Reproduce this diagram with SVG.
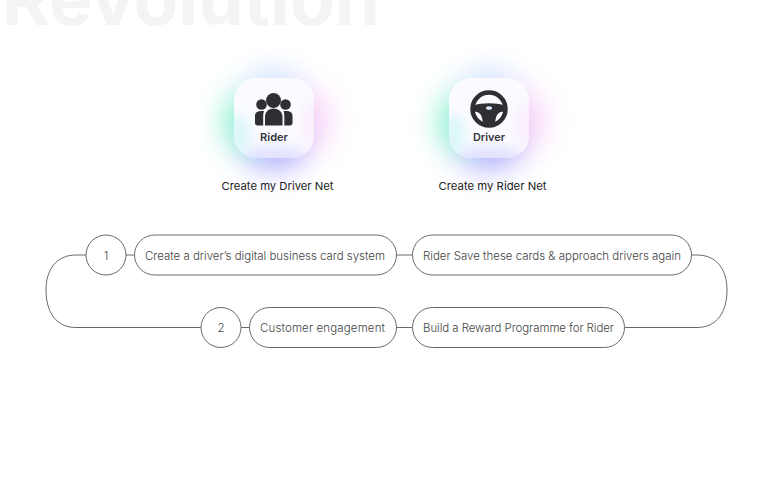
<svg xmlns="http://www.w3.org/2000/svg" width="768" height="490" viewBox="0 0 768 490">
<defs>
<filter id="blur" x="-120%" y="-120%" width="340%" height="340%"><feGaussianBlur stdDeviation="14"/></filter>
<filter id="soft" x="-40%" y="-40%" width="180%" height="180%"><feGaussianBlur stdDeviation="6"/></filter>
<clipPath id="cardclip"><rect x="-40" y="-40" width="80" height="80" rx="22"/></clipPath>
<g id="halo">
<ellipse cx="0" cy="-26" rx="30" ry="24" fill="#cfe0ff" opacity="0.85" filter="url(#blur)"/>
<ellipse cx="30" cy="2" rx="26" ry="30" fill="#f6c8f6" opacity="0.8" filter="url(#blur)"/>
<ellipse cx="0" cy="28" rx="32" ry="24" fill="#a5a3fb" opacity="0.85" filter="url(#blur)"/>
<ellipse cx="-28" cy="4" rx="24" ry="30" fill="#97f2d6" opacity="1" filter="url(#blur)"/>
<rect x="-40" y="-40" width="80" height="80" rx="22" fill="#fbfbff"/>
<g clip-path="url(#cardclip)">
<ellipse cx="0" cy="42" rx="36" ry="14" fill="#dcdcff" opacity="0.8" filter="url(#soft)"/>
<ellipse cx="-36" cy="18" rx="12" ry="22" fill="#d4f6f8" opacity="0.8" filter="url(#soft)"/>
<ellipse cx="38" cy="6" rx="10" ry="24" fill="#f9e8fc" opacity="0.7" filter="url(#soft)"/>
</g>
</g>
</defs>
<style>
.big{font:700 72px "Inter","Liberation Sans",sans-serif;fill:#f4f4f4}
.t{font-family:"Inter","Liberation Sans",sans-serif;font-size:11.500px;fill:#444;font-weight:300}
.h{font-family:"Inter","Liberation Sans",sans-serif;font-size:11px;fill:#222;font-weight:400}
.b{font-family:"Inter","Liberation Sans",sans-serif;font-size:11px;font-weight:600;fill:#33333d}
.box{fill:#fff;stroke:#6a6a6a;stroke-width:1}
.line{fill:none;stroke:#6a6a6a;stroke-width:1}
.ic{fill:#2f2f33}
</style>
<text class="big" x="2" y="25" textLength="378" lengthAdjust="spacingAndGlyphs">Revolution</text>
<g id="rider">
<use href="#halo" x="274" y="118"/>
<g class="ic">
<circle cx="273.500" cy="100.500" r="7.500"/>
<circle cx="261.500" cy="104.500" r="5.300"/>
<circle cx="285.500" cy="104.500" r="5.300"/>
<path d="M265 125.500V117c0-5 3.500-8.500 8.500-8.500s9 3.500 9 8.500v8.500z"/>
<path d="M255 123v-7c0-3.500 2-5 7-5h2c-.6 1.500-.8 3.500-.8 6v8.500H257.500c-1.500 0-2.500-1-2.500-2.500z"/>
<path d="M292.500 123v-7c0-3.500-2-5-7-5h-2c.6 1.500.8 3.500.8 6v8.500H290c1.500 0 2.500-1 2.500-2.500z"/>
</g>
<text class="b" x="274" y="141" text-anchor="middle" textLength="28" lengthAdjust="spacingAndGlyphs">Rider</text>
<text class="h" x="277.500" y="190" text-anchor="middle" textLength="112" lengthAdjust="spacingAndGlyphs">Create my Driver Net</text>
</g>
<g id="driver">
<use href="#halo" x="489" y="118"/>
<circle cx="489" cy="109" r="16.500" fill="none" stroke="#2f2f33" stroke-width="4.500"/>
<path class="ic" d="M473 105.500C482 102.500 496 102.500 505 105.500V111.500C501 111.500 498.500 112.500 497 115C495.500 118 495 122 495 127H483C483 122 482.500 118 481 115C479.500 112.500 477 111.500 473 111.500Z"/>
<ellipse cx="489" cy="108" rx="3" ry="1.800" fill="#dfeafc"/>
<text class="b" x="489" y="141" text-anchor="middle" textLength="32" lengthAdjust="spacingAndGlyphs">Driver</text>
<text class="h" x="492.500" y="190" text-anchor="middle" textLength="108" lengthAdjust="spacingAndGlyphs">Create my Rider Net</text>
</g>
<g id="connectors">
<path class="line" d="M86 255H76C56 255 46 270 46 290C46 312 56 327.500 76 327.500H201"/>
<path class="line" d="M126 255H135"/>
<path class="line" d="M396 255H412"/>
<path class="line" d="M241 327.500H250"/>
<path class="line" d="M396 327.500H412"/>
<path class="line" d="M692 255H697C717 255 727 270 727 290C727 312 717 327.500 697 327.500H625"/>
</g>
<g id="n1"><circle class="box" cx="106" cy="255" r="20"/><text class="t" x="106" y="259.500" text-anchor="middle">1</text></g>
<g id="n2"><rect class="box" x="134.500" y="235" width="262" height="40" rx="20"/><text class="t" x="145" y="259.500" textLength="240" lengthAdjust="spacing">Create a driver’s digital business card system</text></g>
<g id="n3"><rect class="box" x="412.500" y="235" width="279" height="40" rx="20"/><text class="t" x="423" y="259.500" textLength="258" lengthAdjust="spacing">Rider Save these cards &amp; approach drivers again</text></g>
<g id="n4"><circle class="box" cx="221" cy="327.500" r="20"/><text class="t" x="221" y="332" text-anchor="middle">2</text></g>
<g id="n5"><rect class="box" x="249.500" y="307.500" width="147" height="40" rx="20"/><text class="t" x="260" y="332" textLength="125" lengthAdjust="spacing">Customer engagement</text></g>
<g id="n6"><rect class="box" x="412.500" y="307.500" width="212" height="40" rx="20"/><text class="t" x="423" y="332" textLength="191" lengthAdjust="spacing">Build a Reward Programme for Rider</text></g>
</svg>
